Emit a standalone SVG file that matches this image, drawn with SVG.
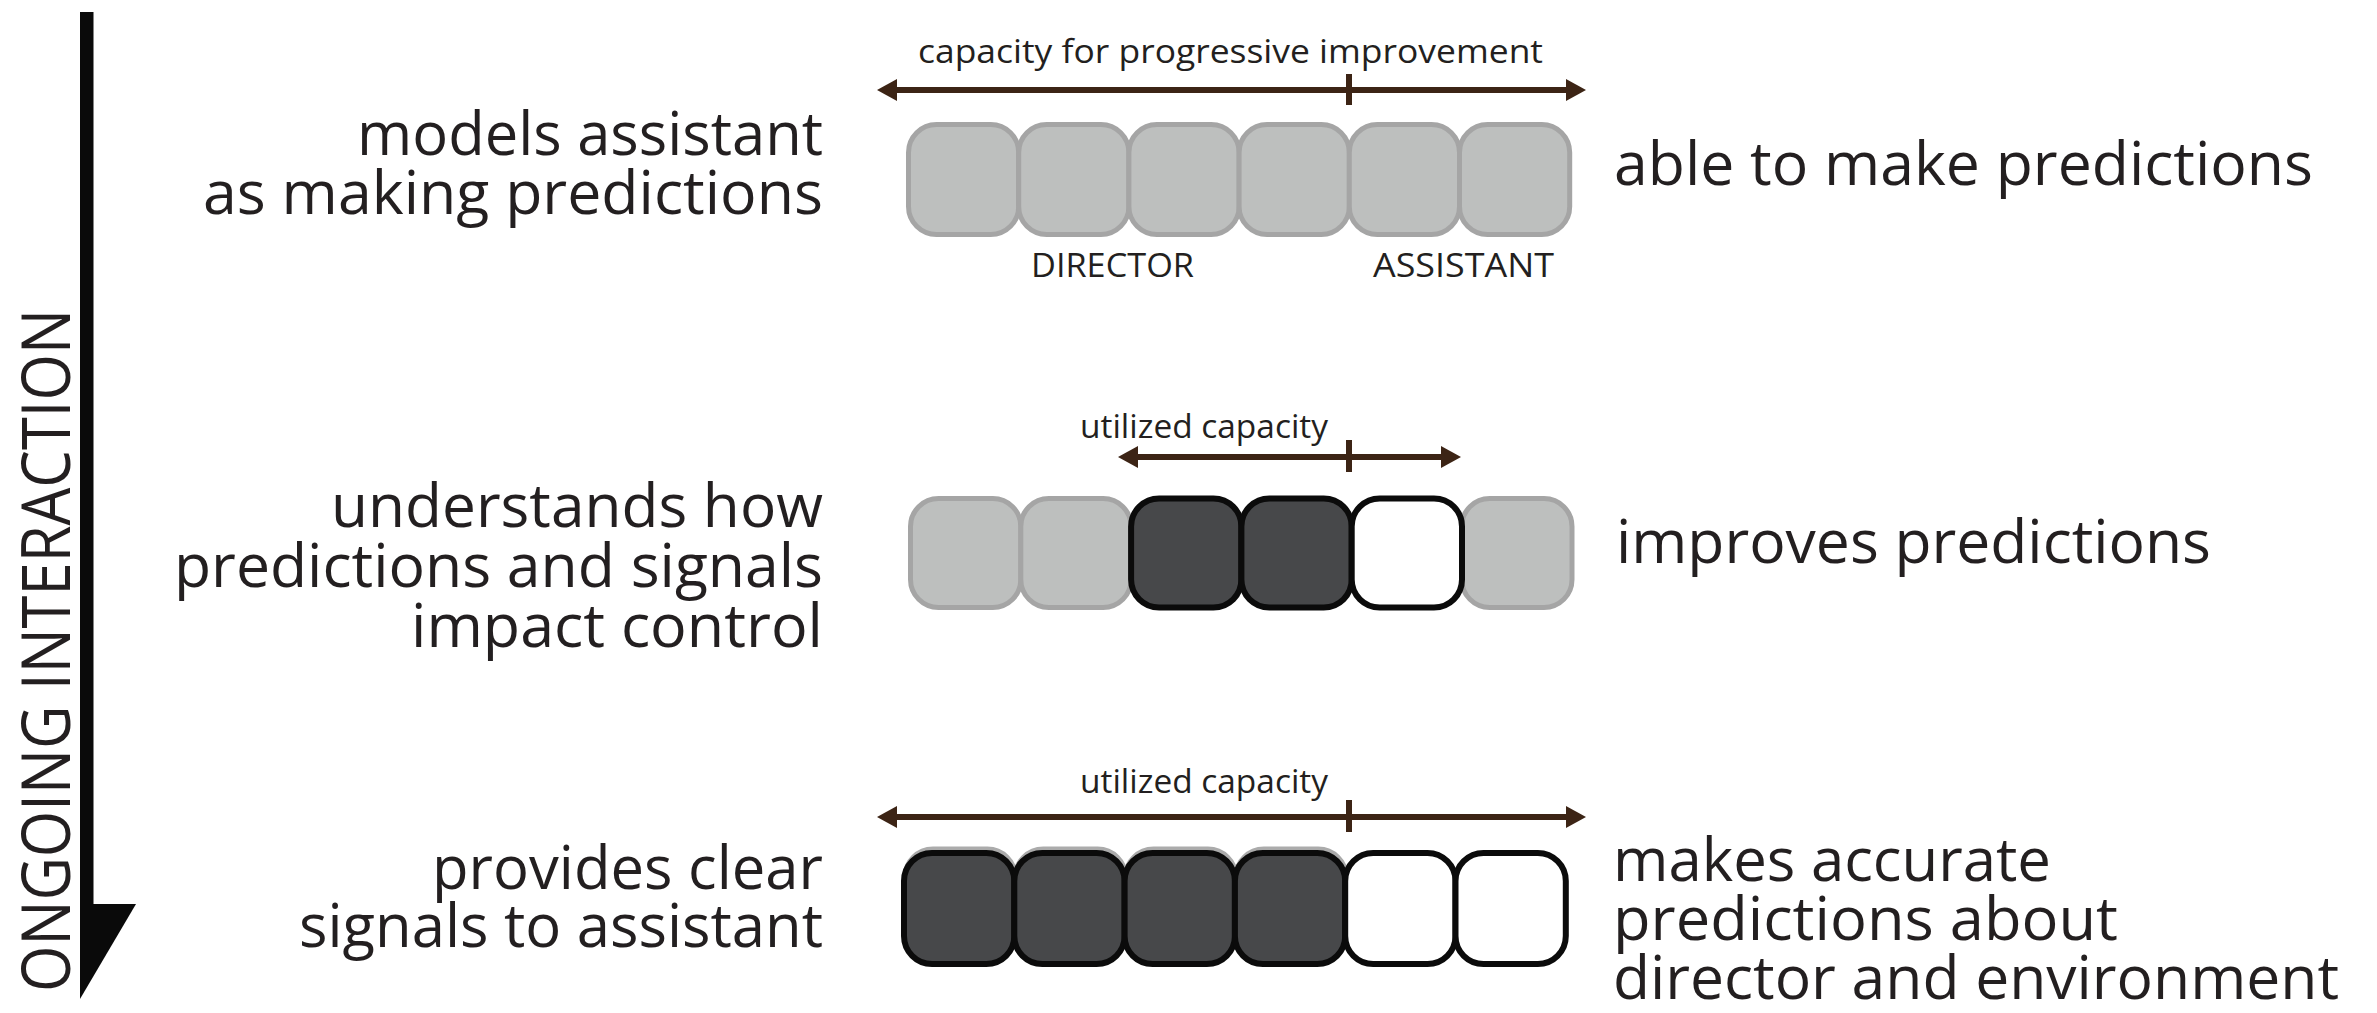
<svg xmlns="http://www.w3.org/2000/svg" width="2377" height="1013" viewBox="0 0 2377 1013">
<style>
text{font-family:"Open Sans","Liberation Sans",sans-serif;fill:#231f20}
.big{font-size:60px}
.small{font-size:32px}
.g{fill:#bdbfbe;stroke:#a5a5a5;stroke-width:5}
.d{fill:#47484a;stroke:#0b0b0b;stroke-width:6}
.w{fill:#ffffff;stroke:#0b0b0b;stroke-width:6}
.sh{fill:none;stroke:#ababab;stroke-width:5}
.ar{stroke:#3c2415;stroke-width:6;fill:none}
</style>
<defs>
<marker id="ah" viewBox="0 0 20 22" refX="5" refY="11" markerWidth="20" markerHeight="22" markerUnits="userSpaceOnUse" orient="auto-start-reverse">
<path d="M0,0 L20,11 L0,22 Z" fill="#3c2415"/>
</marker>
</defs>
<rect width="2377" height="1013" fill="#ffffff"/>

<g id="timeline">
<rect x="80" y="12" width="13.5" height="893" fill="#0a0a0a"/>
<polygon points="80,904 136,904 80,999" fill="#0a0a0a"/>
<text transform="translate(70,992) rotate(-90)" style="font-size:67px" textLength="683" lengthAdjust="spacingAndGlyphs">ONGOING INTERACTION</text>
</g>

<g id="row1-boxes">
<rect class="g" x="908.5" y="124.5" width="110.2" height="110" rx="28"/>
<rect class="g" x="1018.7" y="124.5" width="110.2" height="110" rx="28"/>
<rect class="g" x="1128.9" y="124.5" width="110.2" height="110" rx="28"/>
<rect class="g" x="1239.1" y="124.5" width="110.2" height="110" rx="28"/>
<rect class="g" x="1349.3" y="124.5" width="110.2" height="110" rx="28"/>
<rect class="g" x="1459.5" y="124.5" width="110.2" height="110" rx="28"/>
</g>
<g id="row1-labels">
<text class="small" x="918" y="63" textLength="625" lengthAdjust="spacingAndGlyphs">capacity for progressive improvement</text>
<text class="small" x="1031" y="277" textLength="163" lengthAdjust="spacingAndGlyphs">DIRECTOR</text>
<text class="small" x="1373" y="277" textLength="181" lengthAdjust="spacingAndGlyphs">ASSISTANT</text>
</g>
<g id="row1-left">
<text class="big" x="823" y="155" text-anchor="end" textLength="466" lengthAdjust="spacingAndGlyphs">models assistant</text>
<text class="big" x="823" y="214" text-anchor="end" textLength="620" lengthAdjust="spacingAndGlyphs">as making predictions</text>
</g>
<g id="row1-right">
<text class="big" x="1614" y="185" textLength="699" lengthAdjust="spacingAndGlyphs">able to make predictions</text>
</g>

<g id="row2-boxes">
<rect class="g" x="910.5" y="498.5" width="110.3" height="109" rx="28"/>
<rect class="g" x="1020.8" y="498.5" width="110.3" height="109" rx="28"/>
<rect class="g" x="1461.7" y="498.5" width="110.3" height="109" rx="28"/>
<rect class="d" x="1131.1" y="498.5" width="110.3" height="109" rx="28"/>
<rect class="d" x="1241.4" y="498.5" width="110.3" height="109" rx="28"/>
<rect class="w" x="1351.7" y="498.5" width="110.3" height="109" rx="28"/>
</g>
<g id="row2-labels">
<text class="small" x="1080" y="438" textLength="248" lengthAdjust="spacingAndGlyphs">utilized capacity</text>
</g>
<g id="row2-left">
<text class="big" x="823" y="527" text-anchor="end" textLength="492" lengthAdjust="spacingAndGlyphs">understands how</text>
<text class="big" x="823" y="587" text-anchor="end" textLength="649" lengthAdjust="spacingAndGlyphs">predictions and signals</text>
<text class="big" x="823" y="647" text-anchor="end" textLength="412" lengthAdjust="spacingAndGlyphs">impact control</text>
</g>
<g id="row2-right">
<text class="big" x="1616" y="563" textLength="595" lengthAdjust="spacingAndGlyphs">improves predictions</text>
</g>

<g id="row3-boxes">
<rect class="sh" x="905" y="849" width="110.3" height="111" rx="28"/>
<rect class="sh" x="1015.3" y="849" width="110.3" height="111" rx="28"/>
<rect class="sh" x="1125.6" y="849" width="110.3" height="111" rx="28"/>
<rect class="sh" x="1235.9" y="849" width="110.3" height="111" rx="28"/>
<rect class="d" x="904" y="853" width="110.3" height="111" rx="28"/>
<rect class="d" x="1014.3" y="853" width="110.3" height="111" rx="28"/>
<rect class="d" x="1124.6" y="853" width="110.3" height="111" rx="28"/>
<rect class="d" x="1234.9" y="853" width="110.3" height="111" rx="28"/>
<rect class="w" x="1345.2" y="853" width="110.3" height="111" rx="28"/>
<rect class="w" x="1455.5" y="853" width="110.3" height="111" rx="28"/>
</g>
<g id="row3-labels">
<text class="small" x="1080" y="793" textLength="248" lengthAdjust="spacingAndGlyphs">utilized capacity</text>
</g>
<g id="row3-left">
<text class="big" x="823" y="889" text-anchor="end" textLength="391" lengthAdjust="spacingAndGlyphs">provides clear</text>
<text class="big" x="823" y="947" text-anchor="end" textLength="524" lengthAdjust="spacingAndGlyphs">signals to assistant</text>
</g>
<g id="row3-right">
<text class="big" x="1613" y="881" textLength="438" lengthAdjust="spacingAndGlyphs">makes accurate</text>
<text class="big" x="1613" y="940" textLength="505" lengthAdjust="spacingAndGlyphs">predictions about</text>
<text class="big" x="1613" y="999" textLength="726" lengthAdjust="spacingAndGlyphs">director and environment</text>
</g>

<g id="connectors">
<line class="ar" x1="892" y1="90" x2="1571" y2="90" marker-start="url(#ah)" marker-end="url(#ah)"/>
<line class="ar" x1="1349" y1="74" x2="1349" y2="105"/>
<line class="ar" x1="1133" y1="457" x2="1446" y2="457" marker-start="url(#ah)" marker-end="url(#ah)"/>
<line class="ar" x1="1349" y1="440" x2="1349" y2="472"/>
<line class="ar" x1="892" y1="817" x2="1571" y2="817" marker-start="url(#ah)" marker-end="url(#ah)"/>
<line class="ar" x1="1349" y1="800" x2="1349" y2="832"/>
</g>
</svg>
